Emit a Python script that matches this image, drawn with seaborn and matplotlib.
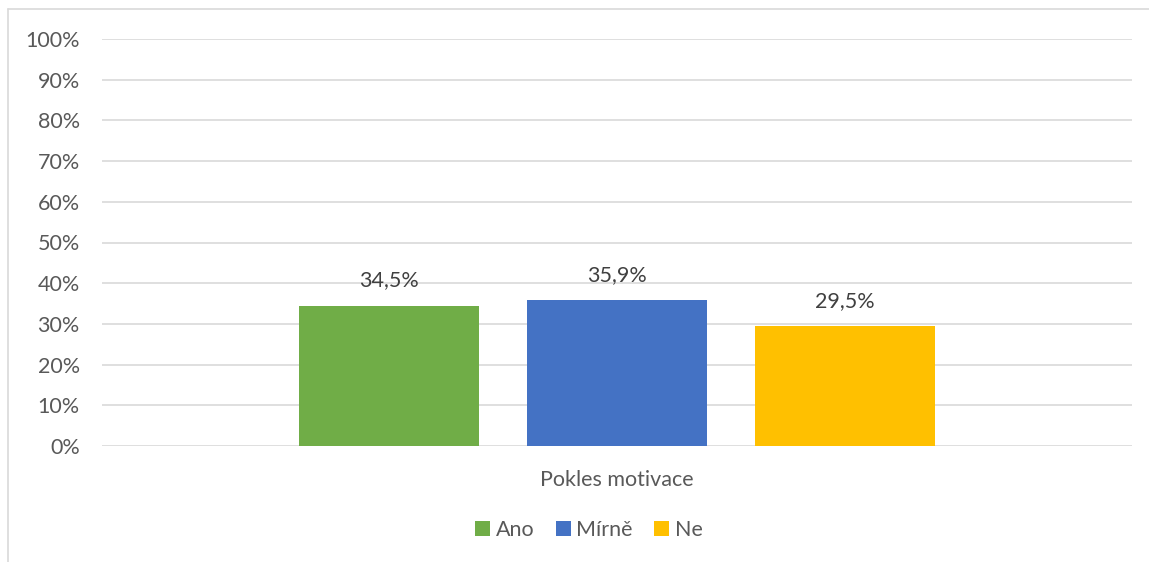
import matplotlib
matplotlib.use("Agg")
import matplotlib.pyplot as plt
import seaborn as sns
import pandas as pd
from matplotlib.lines import Line2D
from matplotlib.patches import Patch

# Data
categories = ["Pokles motivace"]
answers = ["Ano", "Mírně", "Ne"]
values = [34.5, 35.9, 29.5]
colors = ["#70AD47", "#4472C4", "#FFC000"]
yticks = [0, 10, 20, 30, 40, 50, 60, 70, 80, 90, 100]

df = pd.DataFrame({
    "kategorie": categories * len(answers),
    "odpoved": answers,
    "hodnota": values,
})

sns.set_theme(style="white")
plt.rcParams["font.family"] = ["Lato", "DejaVu Sans"]
txt = "#595959"
fs = 15.5

fig = plt.figure(figsize=(11.49, 5.62), dpi=100)
ax = fig.add_axes([102 / 1149, 1 - 446 / 562, 1030 / 1149, 407 / 562])

sns.barplot(data=df, x="kategorie", y="hodnota", hue="odpoved",
            palette=colors, width=0.664, gap=0.21, saturation=1,
            linewidth=0, edgecolor="none", legend=False, ax=ax)

ax.set_xlim(-0.5, 0.5)
ax.set_ylim(0, 100)
ax.set_yticks(yticks)
ax.set_yticklabels([f"{v}%" for v in yticks])
ax.set_xlabel("")
ax.set_ylabel("")
ax.grid(axis="y", color="#D9D9D9", linewidth=1.2)
ax.set_axisbelow(True)
for s in ax.spines.values():
    s.set_visible(False)
ax.tick_params(axis="y", length=0, pad=16, labelsize=fs, labelcolor=txt)
ax.tick_params(axis="x", length=0, pad=17, labelsize=fs, labelcolor=txt)

for cont in ax.containers:
    ax.bar_label(cont, labels=[f"{v:.1f}%".replace(".", ",") for v in cont.datavalues],
                 padding=11, fontsize=fs, color="#404040")

handles = [Patch(facecolor=c, edgecolor="none") for c in colors]
fig.legend(handles, answers, loc="center", bbox_to_anchor=(589 / 1149, 1 - 530 / 562),
           ncol=3, frameon=False, fontsize=fs, labelcolor=txt,
           handlelength=0.7, handleheight=0.7, handletextpad=0.25, columnspacing=1.0)

# chart border (top and left visible)
fig.add_artist(Line2D([8 / 1149, 1.0], [1 - 9 / 562, 1 - 9 / 562], color="#D9D9D9", linewidth=1.2))
fig.add_artist(Line2D([8 / 1149, 8 / 1149], [0, 1 - 9 / 562], color="#D9D9D9", linewidth=1.2))

fig.savefig("out.png", dpi=100, facecolor="white")
